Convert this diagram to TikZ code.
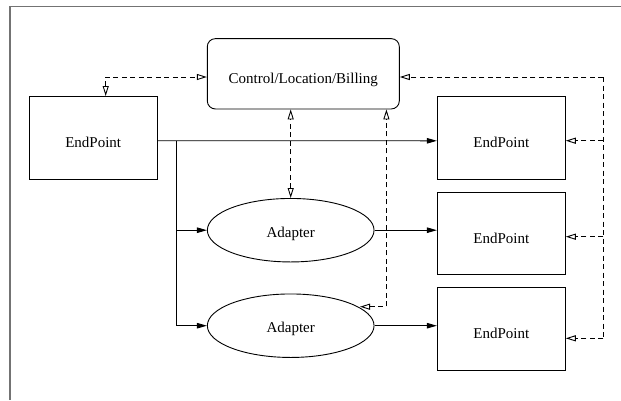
\documentclass[tikz,border=0pt]{standalone}
\usepackage{fontspec}
\setmainfont{Liberation Serif}
\usetikzlibrary{arrows.meta,shapes.geometric}
\tikzset{oarr/.tip={Triangle[open,length=10pt,width=6pt]}}
\begin{document}
\begin{tikzpicture}[x=1pt,y=-1pt,
  font=\fontsize{15pt}{18pt}\selectfont,
  box/.style={draw, line width=0.9pt, inner sep=0pt, text height=20pt, text depth=0pt},
  epbox/.style={box, minimum width=128pt, minimum height=82.5pt},
  adbox/.style={draw, ellipse, line width=0.9pt, inner sep=0pt, minimum width=166.7pt, minimum height=63.5pt, text height=14pt, text depth=0pt},
  solidarrow/.style={line width=0.9pt, -{Triangle[length=10pt,width=5.5pt]}},
  dsh/.style={line width=0.9pt, dash pattern=on 5pt off 3.5pt},
  frame/.style={draw=black!55, line width=1.5pt}
]
\useasboundingbox (0,0) rectangle (621,400);
\draw[frame] (10,400) -- (10,6.7) -- (621,6.7);

\node[box, rounded corners=8pt, minimum width=192pt, minimum height=70.3pt] (ctrl) at (303.3,73.8) {Control/Location/Billing};
\node[epbox] (ep0) at (93.2,137.7) {EndPoint};
\node[epbox] (ep1) at (501.3,137.8) {EndPoint};
\node[epbox] (ep2) at (501.3,233.3) {EndPoint};
\node[epbox, minimum height=83pt] (ep3) at (501.3,328.8) {EndPoint};
\node[adbox] (ad1) at (290.7,230.2) {Adapter};
\node[adbox] (ad2) at (290.7,325.7) {Adapter};

% solid connectors
\draw[solidarrow] ([yshift=-3pt]ep0.east) -- ([yshift=-3pt]ep1.west);
\coordinate (br) at (176,140.7);
\draw[solidarrow] (br) |- (ad2.west);
\draw[solidarrow] (br |- ad1.west) -- (ad1.west);
\draw[solidarrow] (ad1.east) -- (ad1.east -| ep2.west);
\draw[solidarrow] (ad2.east) -- (ad2.east -| ep3.west);

% dashed connectors
\coordinate (c0) at (105.7,77);
\draw[dsh, oarr-oarr] (ep0.north -| c0) |- (c0 -| ctrl.west);
\draw[dsh, oarr-oarr] (ad1.north) -- (ad1.north |- ctrl.south);
\coordinate (a2t) at (360,306.7);
\coordinate (c1) at (386.4,306.7);
\draw[dsh, oarr-oarr] (a2t) -- (c1) -- (c1 |- ctrl.south);

\coordinate (bus) at (603.3,77);
\coordinate (t1) at (603.3,140.7);
\coordinate (t2) at (603.3,236.7);
\coordinate (t3) at (603.3,338.3);
\draw[dsh] (bus) -- (t3);
\draw[dsh, -oarr] (bus) -- (bus -| ctrl.east);
\draw[dsh, -oarr] (t1) -- (t1 -| ep1.east);
\draw[dsh, -oarr] (t2) -- (t2 -| ep2.east);
\draw[dsh, -oarr] (t3) -- (t3 -| ep3.east);
\end{tikzpicture}
\end{document}
